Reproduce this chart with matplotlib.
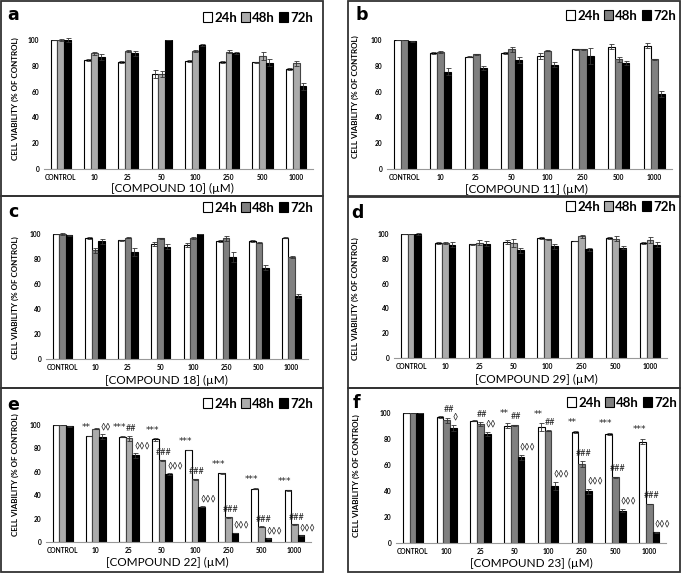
import matplotlib
matplotlib.use("Agg")
import matplotlib.pyplot as plt
from matplotlib.patches import Patch, Rectangle
import numpy as np

W, H = 684, 574
CATS = ['CONTROL', '10', '25', '50', '100', '250', '500', '1000']
CATS_F = ['CONTROL', '100', '25', '50', '100', '250', '500', '1000']
SERIES = ['24h', '48h', '72h']

A24 = [100, 84.5, 83, 73.5, 83.8, 83, 82.7, 77.3]
A48 = [100, 89.7, 91.5, 73.7, 91.5, 91, 87.6, 82]
A72 = [100, 87, 89.7, 100, 96, 90, 82.5, 64]
A24_ERR = [0.3, 0.5, 0.5, 3, 0.5, 0.5, 0.5, 0.8]
A48_ERR = [0.5, 1, 1, 2, 1, 1, 3, 2]
A72_ERR = [1.5, 2.5, 2, 0, 1, 1, 3, 3]

B24 = [100, 90, 87, 90, 87.6, 92.8, 94.8, 95.6]
B48 = [100, 90.7, 89, 92.8, 91.7, 92.8, 85, 85]
B72 = [99, 75.5, 78, 84.5, 81, 87.6, 82.5, 58]
B24_ERR = [0.3, 0.5, 0.5, 1, 2, 0.5, 2, 2]
B48_ERR = [0.3, 0.5, 0.5, 2, 0.5, 0.5, 2, 0.5]
B72_ERR = [0.3, 3, 1.5, 2.5, 2, 6, 1.5, 2.5]

C24 = [100, 96.8, 95, 92.3, 91, 94.4, 94.4, 97]
C48 = [100, 87, 97, 96.5, 96.8, 96.8, 93, 81.6]
C72 = [99, 94.4, 85.6, 90, 100, 81.6, 73, 50.5]
C24_ERR = [0.3, 1, 0.5, 1.5, 1.5, 0.5, 0.5, 0.3]
C48_ERR = [0.5, 2, 0.5, 0.3, 0.5, 2, 0.3, 0.5]
C72_ERR = [0.5, 2, 3, 2, 0, 4, 2, 1.5]

D24 = [100, 92.7, 91.7, 93.5, 96.8, 94.4, 96.8, 92.7]
D48 = [100, 92.7, 93, 92.7, 95.7, 98, 96.2, 95.4]
D72 = [100, 91.4, 92, 86.8, 90.3, 87.6, 89, 91.4]
D24_ERR = [0.2, 0.5, 0.3, 1.5, 0.5, 0.3, 0.5, 0.5]
D48_ERR = [0.2, 0.5, 2, 3.5, 0.5, 1, 2, 2.5]
D72_ERR = [1, 2, 2, 2, 2, 1.5, 1, 2]

E24 = [100, 90.6, 90, 87.7, 78.6, 58.6, 45.7, 44.3]
E48 = [100, 97, 88.6, 70, 53.7, 21, 13, 15]
E72 = [99, 90, 74, 58, 30, 7.7, 3, 5.7]
E24_ERR = [0.3, 0.3, 0.5, 1, 0.3, 0.5, 0.3, 0.3]
E48_ERR = [0.3, 0.5, 2, 0.5, 0.3, 0.5, 0.3, 0.3]
E72_ERR = [0.5, 2, 2, 1, 0.5, 0.3, 0.3, 0.3]
E_STARS = ['', '**', '***', '***', '***', '***', '***', '***']
E_HASH = ['', '', '##', '###', '###', '###', '###', '###']
E_DIAM = ['', '◊◊', '◊◊◊', '◊◊◊', '◊◊◊', '◊◊◊', '◊◊◊', '◊◊◊']

F24 = [100, 97, 94, 90.3, 89, 85.4, 84, 78]
F48 = [100, 94.4, 91.5, 90.5, 86.4, 60.8, 50.5, 30]
F72 = [100, 88.5, 84, 66, 44, 39.7, 25, 8.2]
F24_ERR = [0.3, 0.5, 0.5, 2, 3, 0.5, 1, 2]
F48_ERR = [0.3, 2, 1.5, 0.5, 0.3, 2, 0.5, 0.3]
F72_ERR = [0.3, 2, 1.5, 2, 3, 2, 1, 0.3]
F_STARS = ['', '', '', '**', '**', '**', '***', '***']
F_HASH = ['', '##', '##', '##', '##', '###', '###', '###']
F_DIAM = ['', '◊', '◊◊', '◊◊◊', '◊◊◊', '◊◊◊', '◊◊◊', '◊◊◊']

LIGHT = '#ababab'
DARK = '#808080'
FONT = ['Lato', 'DejaVu Sans']

fig = plt.figure(figsize=(W / 100, H / 100), dpi=100)


def fx(x):
    return x / W


def fy(y):
    return 1 - y / H


# panel frames (pixel boxes)
frames = [(1, 1, 323, 196), (348, 1, 680, 196), (1, 196, 323, 388),
          (348, 197, 680, 388), (1, 388, 323, 572), (348, 388, 680, 572)]
for (x0, y0, x1, y1) in frames:
    fig.add_artist(Rectangle((fx(x0), fy(y1)), fx(x1 - x0), (y1 - y0) / H,
                             transform=fig.transFigure, fill=False,
                             edgecolor='#333333', lw=1.3))

panels = [
    dict(letter='a', comp='10', cats=CATS, gray=LIGHT, vals=(A24, A48, A72), errs=(A24_ERR, A48_ERR, A72_ERR),
         box=(44, 313, 169, 40), letter_xy=(13, 15), leg=(313, 18), xl=(172, 188), yl=(15, 99)),
    dict(letter='b', comp='11', cats=CATS, gray=DARK, vals=(B24, B48, B72), errs=(B24_ERR, B48_ERR, B72_ERR),
         box=(387, 672, 169, 40), letter_xy=(362, 15), leg=(676, 16), xl=(526, 189), yl=(355, 97)),
    dict(letter='c', comp='18', cats=CATS, gray=DARK, vals=(C24, C48, C72), errs=(C24_ERR, C48_ERR, C72_ERR),
         box=(46, 308, 359, 234), letter_xy=(13, 212), leg=(313, 208), xl=(166, 380), yl=(15, 298)),
    dict(letter='d', comp='29', cats=CATS, gray=LIGHT, vals=(D24, D48, D72), errs=(D24_ERR, D48_ERR, D72_ERR),
         box=(394, 667, 358, 234), letter_xy=(357, 213), leg=(676, 207), xl=(536, 379), yl=(355, 299)),
    dict(letter='e', comp='22', cats=CATS, gray=LIGHT, vals=(E24, E48, E72), errs=(E24_ERR, E48_ERR, E72_ERR),
         box=(46, 311, 542, 425), letter_xy=(13, 405), leg=(313, 404), xl=(167, 562), yl=(15, 475),
         ann=(E_STARS, E_HASH, E_DIAM)),
    dict(letter='f', comp='23', cats=CATS_F, gray=DARK, vals=(F24, F48, F72), errs=(F24_ERR, F48_ERR, F72_ERR),
         box=(396, 666, 543, 413), letter_xy=(356, 403), leg=(677, 403), xl=(531, 563), yl=(356, 476),
         ann=(F_STARS, F_HASH, F_DIAM)),
]

bw = 0.2
for p in panels:
    xl, xr, y0, y100 = p['box']
    ax = fig.add_axes([fx(xl), fy(y0), fx(xr - xl), (y0 - y100) / H])
    x = np.arange(len(p['cats']))
    colors = ['white', p['gray'], 'black']
    edges = ['black', '#444444', 'black']
    for i in range(3):
        ax.bar(x + (i - 1) * bw, p['vals'][i], width=bw, color=colors[i],
               edgecolor=edges[i], linewidth=0.8, zorder=2)
        ax.errorbar(x + (i - 1) * bw, p['vals'][i], yerr=p['errs'][i], fmt='none',
                    ecolor='#333333', elinewidth=0.6, capsize=1.8, capthick=0.6,
                    zorder=3, clip_on=False)
    ax.set_xlim(-0.5, 7.5)
    ax.set_ylim(0, 100)
    for s in ['left', 'top', 'right']:
        ax.spines[s].set_visible(False)
    ax.spines['bottom'].set_color('#999999')
    ax.spines['bottom'].set_linewidth(0.8)
    ax.set_yticks([0, 20, 40, 60, 80, 100])
    ax.set_xticks(x)
    ax.set_xticklabels(p['cats'])
    ax.tick_params(length=0, labelsize=4.8, pad=3.5)
    for t in ax.get_xticklabels() + ax.get_yticklabels():
        t.set_fontweight('bold')
        t.set_family(FONT)
    ax.patch.set_visible(False)

    if 'ann' in p:
        stars, hashes, diams = p['ann']
        v24, v48, v72 = p['vals']
        e24, e48, e72 = p['errs']
        for g in range(len(x)):
            if stars[g]:
                ax.text(g - bw - 0.09, v24[g] + e24[g] + 7, stars[g], ha='center', va='center',
                        fontsize=6.5, family=['DejaVu Sans'], color='#222222')
            if hashes[g]:
                ax.text(g + 0.06, v48[g] + e48[g] + 6, hashes[g], ha='center', va='center',
                        fontsize=6.5, family=FONT, color='#222222')
            if diams[g]:
                ax.text(g + 0.16, v72[g] + e72[g] + 6, diams[g], ha='left', va='center',
                        fontsize=6.5, family=FONT, color='#222222')

    fig.text(fx(p['letter_xy'][0]), fy(p['letter_xy'][1]), p['letter'], ha='center', va='center',
             fontsize=12.5, fontweight='bold', family=['DejaVu Sans'])
    fig.text(fx(p['xl'][0]), fy(p['xl'][1]), '[COMPOUND %s] (µM)' % p['comp'], ha='center', va='center',
             fontsize=8.5, family=FONT)
    fig.text(fx(p['yl'][0]), fy(p['yl'][1]), 'CELL VIABILITY (% OF CONTROL)', ha='center', va='center',
             rotation=90, fontsize=5.8, fontweight='bold', family=FONT)
    handles = [Patch(facecolor=colors[i], edgecolor='black', linewidth=0.8) for i in range(3)]
    fig.legend(handles, SERIES, loc='center right', bbox_to_anchor=(fx(p['leg'][0]), fy(p['leg'][1])),
               ncol=3, frameon=False, handlelength=0.7, handleheight=0.8, handletextpad=0.15,
               columnspacing=0.3, borderpad=0, borderaxespad=0,
               prop=dict(family=FONT, weight='bold', size=9.5))

fig.savefig('out.png', dpi=100)
